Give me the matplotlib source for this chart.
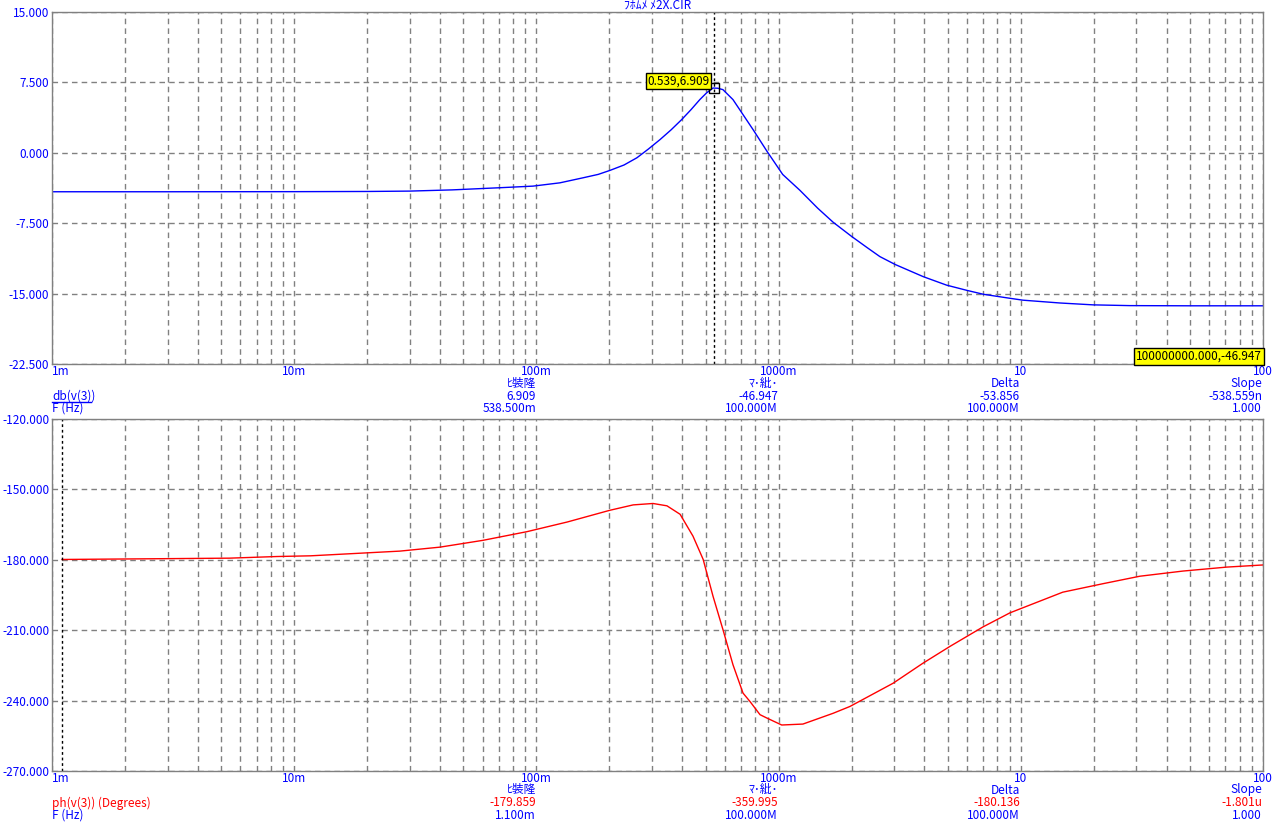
import matplotlib
matplotlib.use('Agg')
import matplotlib.pyplot as plt
from matplotlib.ticker import NullFormatter
from matplotlib.lines import Line2D

plt.rcParams['font.family'] = ['Liberation Sans Narrow', 'Noto Sans CJK JP', 'DejaVu Sans']

# gain curve db(v(3))
freq_db = [0.001, 0.003, 0.01, 0.02, 0.03, 0.045, 0.0708, 0.0968, 0.125, 0.156,
           0.18, 0.201, 0.23, 0.260, 0.29, 0.324, 0.36, 0.398, 0.435, 0.473,
           0.505, 0.536, 0.56, 0.589, 0.648, 0.784, 0.895, 1.04, 1.225, 1.45,
           1.68, 2.0, 2.32, 2.62, 3.03, 3.96, 4.94, 5.98, 7.0, 9.02,
           10.2, 14.5, 19.9, 28.2, 50, 100]
db_vals = [-4.15, -4.15, -4.14, -4.12, -4.08, -3.95, -3.72, -3.55, -3.2, -2.66,
           -2.3, -1.88, -1.3, -0.53, 0.4, 1.41, 2.45, 3.54, 4.6, 5.67,
           6.4, 6.9, 6.88, 6.73, 5.67, 2.48, 0.17, -2.31, -4.0, -5.9,
           -7.4, -8.9, -10.1, -11.06, -11.9, -13.2, -14.1, -14.65, -15.07, -15.5,
           -15.7, -16.0, -16.2, -16.28, -16.3, -16.3]

# phase curve ph(v(3))
freq_ph = [0.0011, 0.0054, 0.0085, 0.0117, 0.0273, 0.040, 0.0602, 0.0915, 0.134, 0.201,
           0.251, 0.303, 0.346, 0.392, 0.443, 0.488, 0.536, 0.589, 0.648, 0.713,
           0.762, 0.838, 0.893, 1.03, 1.26, 1.68, 1.97, 2.97, 3.94, 5.10,
           6.98, 9.02, 14.9, 21.8, 31.0, 46.7, 71.0, 100]
ph_vals = [-179.86, -179.3, -178.6, -178.3, -176.3, -174.6, -171.7, -168.0, -163.9, -158.9,
           -156.6, -156.0, -157.0, -160.6, -169.9, -179.8, -195.5, -209.7, -224.7, -236.8,
           -240.4, -246.0, -247.4, -250.4, -250.0, -245.4, -242.5, -232.6, -224.1, -216.9,
           -208.6, -202.6, -193.8, -190.2, -187.0, -184.8, -183.1, -182.2]

x_ticks = [1e-3, 1e-2, 1e-1, 1, 10, 100]
x_ticklabels = ['1m', '10m', '100m', '1000m', '10', '100']
db_ticks = [-22.5, -15, -7.5, 0, 7.5, 15]
ph_ticks = [-270, -240, -210, -180, -150, -120]

cursor_db = (0.539, 6.909)
cursor_ph_f = 0.0011

title = 'ﾌﾎﾑﾒ ﾒ2X.CIR'
col_heads = ['ﾋ裝隆', 'ﾏ･紕･', 'Delta', 'Slope']
db_row = ['6.909', '-46.947', '-53.856', '-538.559n']
db_frow = ['538.500m', '100.000M', '100.000M', '1.000']
ph_row = ['-179.859', '-359.995', '-180.136', '-1.801u']
ph_frow = ['1.100m', '100.000M', '100.000M', '1.000']

W, H = 1276, 826
BLUE = '#0000ff'
RED = '#ff0000'
GRID = '#808080'
FS = 8.5

fig = plt.figure(figsize=(W / 100, H / 100), dpi=100)
fig.patch.set_facecolor('white')

def fx(px):
    return px / W

def fy(py):
    return 1 - py / H

ax1 = fig.add_axes([fx(52), fy(364), 1211 / W, 352 / H])
ax2 = fig.add_axes([fx(52), fy(771), 1211 / W, 352 / H])

for ax, yt in ((ax1, db_ticks), (ax2, ph_ticks)):
    ax.set_xscale('log')
    ax.set_xlim(1e-3, 1e2)
    ax.set_ylim(yt[0], yt[-1])
    ax.set_yticks(yt)
    ax.set_yticklabels(['%.3f' % v for v in yt])
    ax.set_xticks(x_ticks)
    ax.set_xticklabels(x_ticklabels)
    ax.xaxis.set_minor_formatter(NullFormatter())
    ax.get_xticklabels()[0].set_ha('left')
    ax.tick_params(which='both', length=0, labelsize=FS, labelcolor=BLUE)
    ax.tick_params(axis='x', pad=1)
    ax.tick_params(axis='y', pad=2)
    ax.xaxis.grid(True, which='both', color=GRID, linestyle=(0, (4, 3)), linewidth=1)
    ax.yaxis.grid(True, which='major', color=GRID, linestyle=(0, (4, 3)), linewidth=1)
    ax.set_axisbelow(True)
    for s in ax.spines.values():
        s.set_color(GRID)
        s.set_linewidth(1)

ax1.plot(freq_db, db_vals, color=BLUE, linewidth=1)
ax2.plot(freq_ph, ph_vals, color=RED, linewidth=1)

# cursors
ax1.axvline(cursor_db[0], color='black', linestyle=(0, (2, 2)), linewidth=1)
ax1.plot([cursor_db[0]], [cursor_db[1]], marker='s', markersize=7, markerfacecolor='none',
         markeredgecolor='black', markeredgewidth=1)
ax1.annotate('%.3f,%.3f' % cursor_db, xy=cursor_db, xytext=(-4, 7), textcoords='offset pixels',
             ha='right', va='center', fontsize=FS, color='black',
             bbox=dict(boxstyle='square,pad=0.15', facecolor='yellow', edgecolor='black', linewidth=1))
ax1.text(0.999, 0.003, '100000000.000,-46.947', transform=ax1.transAxes, ha='right', va='bottom',
         fontsize=FS, color='black',
         bbox=dict(boxstyle='square,pad=0.15', facecolor='yellow', edgecolor='black', linewidth=1))
ax2.axvline(cursor_ph_f, color='black', linestyle=(0, (2, 2)), linewidth=1)

ax1.set_title(title, fontsize=FS, color=BLUE, pad=1)

# readout tables under each panel
col_x = [536, 778, 1020, 1262]

def readout(y0, name, name_color, vals, val_color, fvals):
    fig.text(fx(52), fy(y0 + 13), name, color=name_color, fontsize=FS, ha='left', va='center')
    fig.text(fx(52), fy(y0 + 25.5), 'F (Hz)', color=BLUE, fontsize=FS, ha='left', va='center')
    for i, cx in enumerate(col_x):
        fig.text(fx(cx), fy(y0), col_heads[i], color=BLUE, fontsize=FS, ha='right', va='center')
        fig.text(fx(cx), fy(y0 + 13), vals[i], color=val_color, fontsize=FS, ha='right', va='center')
        fig.text(fx(cx), fy(y0 + 25.5), fvals[i], color=BLUE, fontsize=FS, ha='right', va='center')

readout(383, 'db(v(3))', BLUE, db_row, BLUE, db_frow)
readout(790, 'ph(v(3)) (Degrees)', RED, ph_row, RED, ph_frow)
fig.add_artist(Line2D([fx(52), fx(91)], [fy(402), fy(402)], color=BLUE, linewidth=1))

fig.savefig('out.png', dpi=100)
